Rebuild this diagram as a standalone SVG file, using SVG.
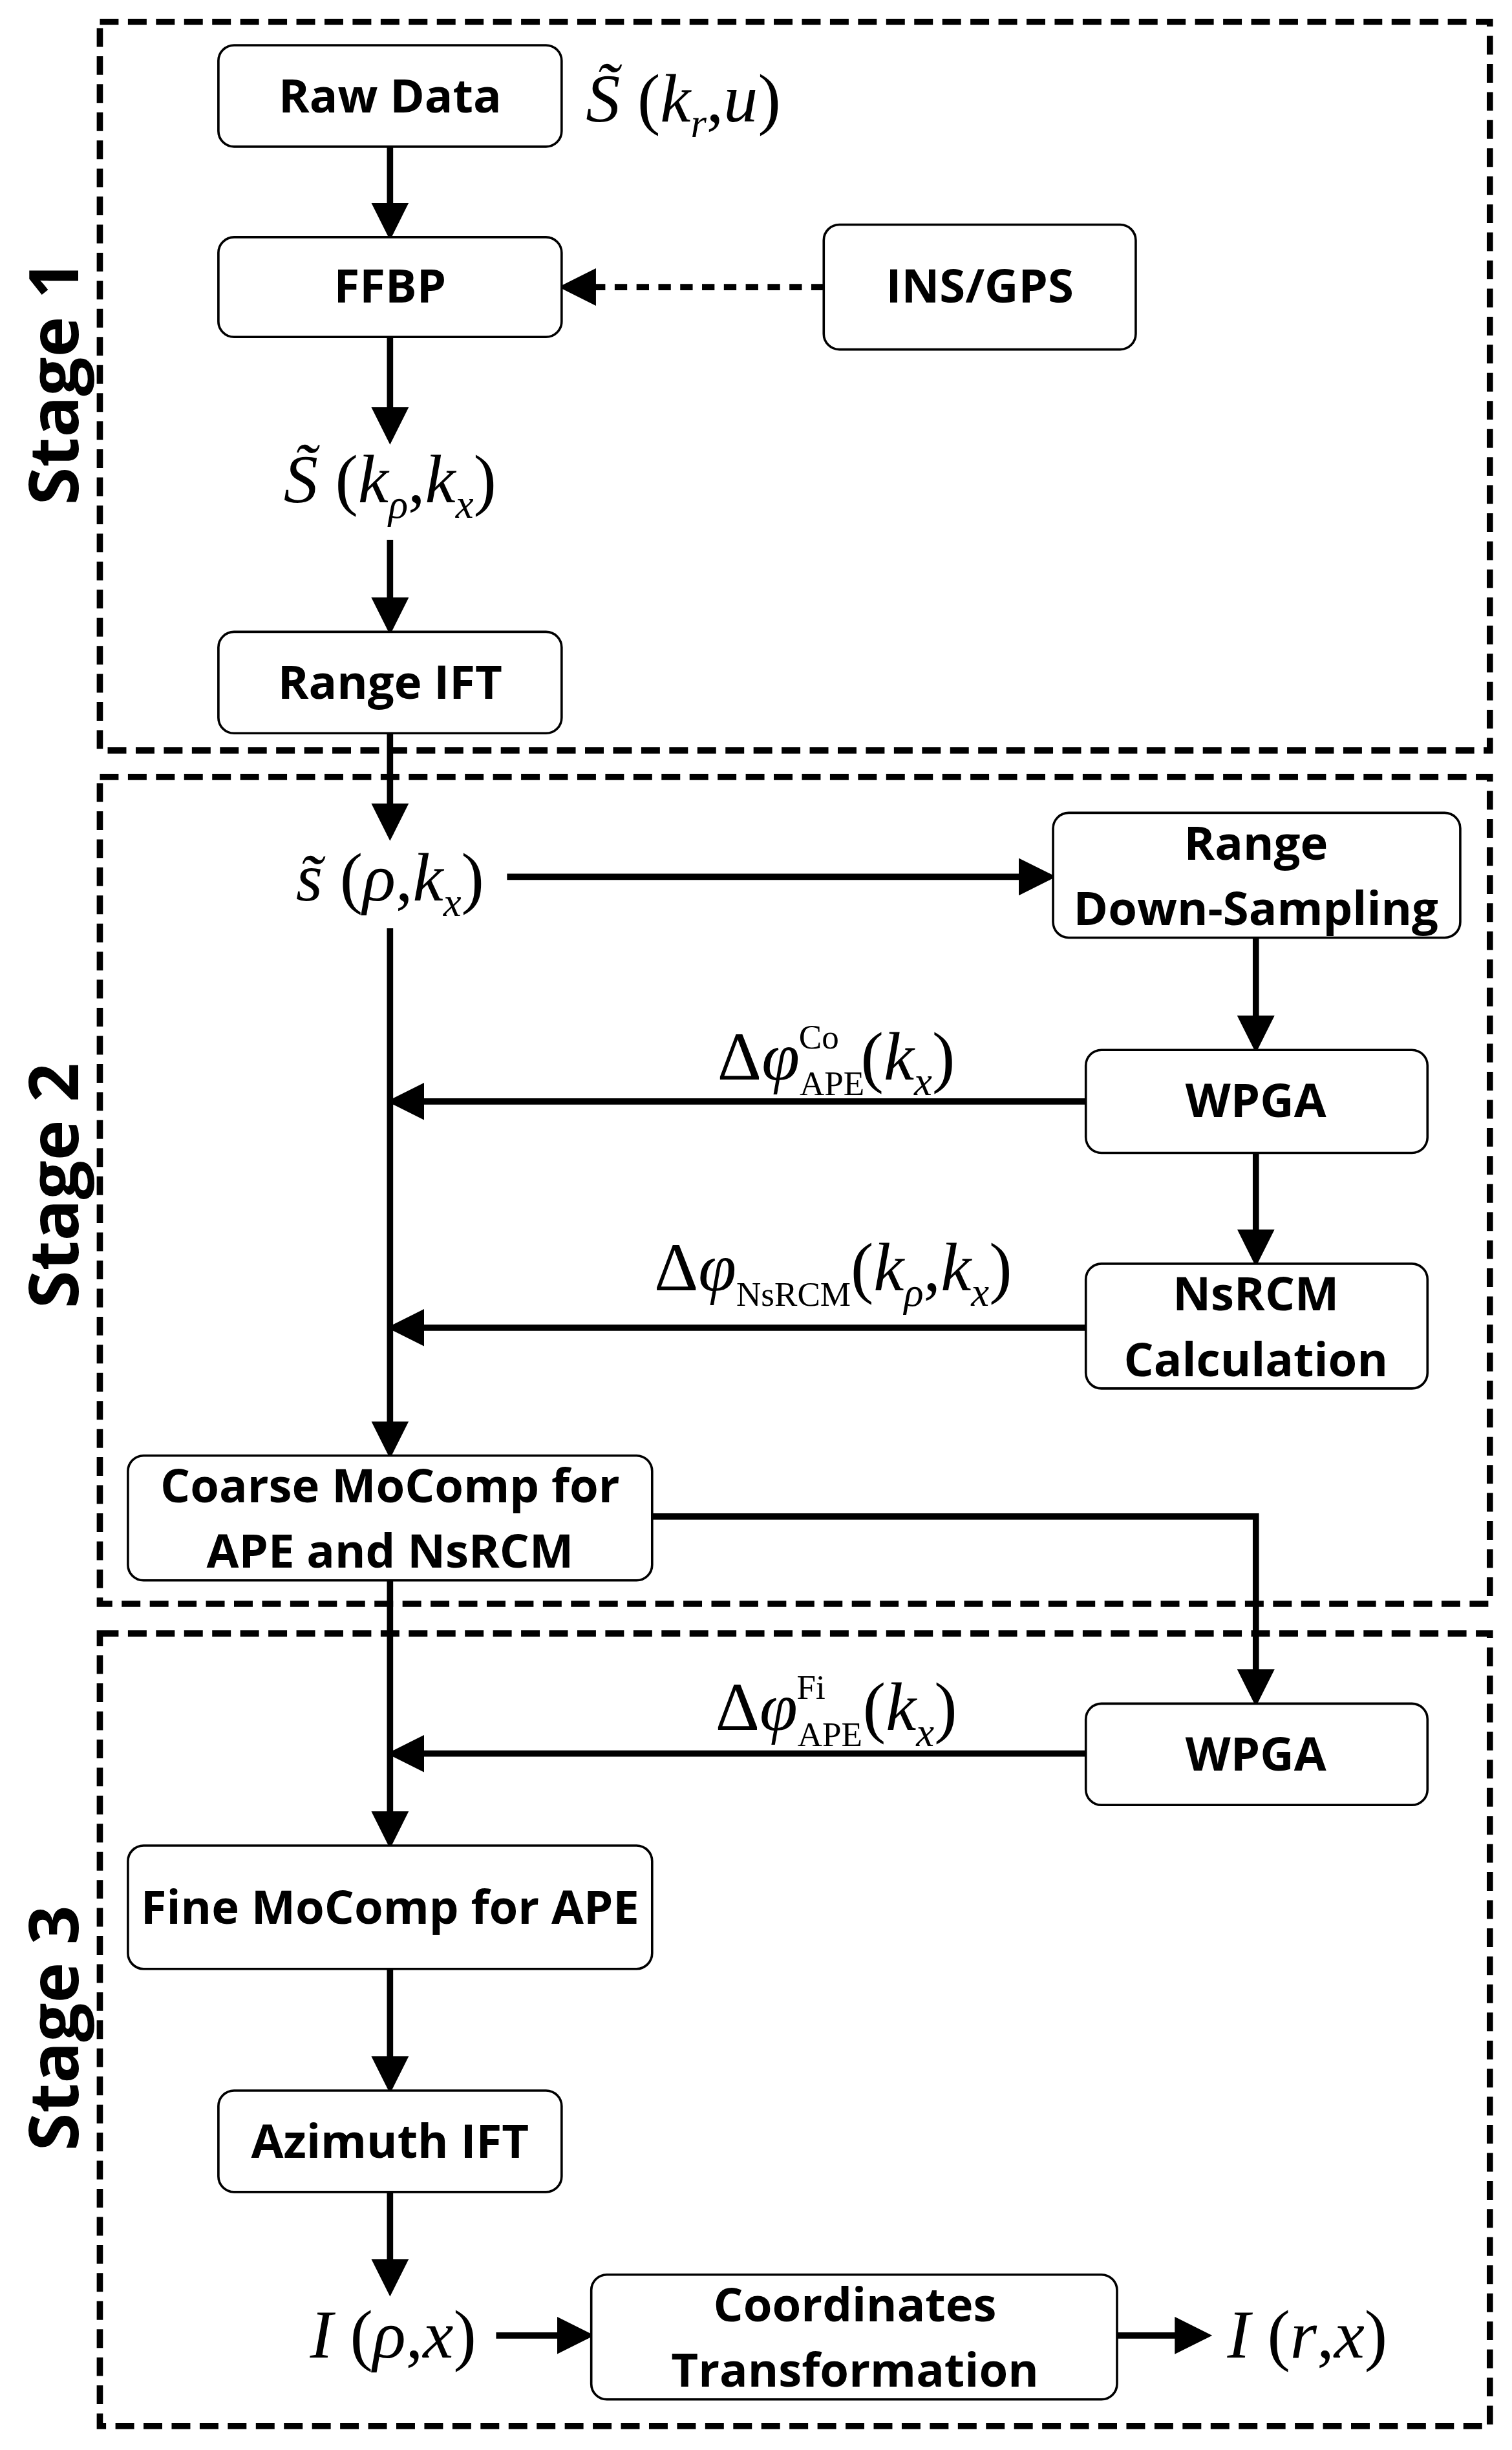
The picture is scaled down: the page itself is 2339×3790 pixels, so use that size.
<svg xmlns="http://www.w3.org/2000/svg" width="2339" height="3790" viewBox="0 0 2339 3790">
<defs>
<marker id="ah" markerWidth="6" markerHeight="6" refX="5" refY="3" orient="auto" markerUnits="strokeWidth"><path d="M0,0 L6,3 L0,6 z" fill="#000"/></marker>
<style>
.st{fill:none;stroke:#000;stroke-width:4;stroke-dasharray:12,6}
.nd{fill:#fff;stroke:#000;stroke-width:1.5}
.t{font-family:"Open Sans","Liberation Sans",sans-serif;font-weight:bold;font-size:30px;text-anchor:middle}
.sl{font-family:"Open Sans","Liberation Sans",sans-serif;font-weight:bold;font-size:44px;text-anchor:middle}
.m{font-family:"Liberation Serif",serif;font-size:44px;text-anchor:middle}
.i{font-style:italic}
.ar{fill:none;stroke:#000;stroke-width:4;marker-end:url(#ah)}
</style>
</defs>
<rect width="2339" height="3790" fill="#fff"/>
<g transform="scale(2.4134)">
<g id="stages">
<rect class="st" x="64" y="14" width="891" height="467"/>
<rect class="st" x="64" y="498" width="891" height="530"/>
<rect class="st" x="64" y="1047" width="891" height="508"/>
<text class="sl" transform="translate(50,245) rotate(-90)">Stage 1</text>
<text class="sl" transform="translate(50,760) rotate(-90)">Stage 2</text>
<text class="sl" transform="translate(50,1300) rotate(-90)">Stage 3</text>
</g>
<g id="connectors">
<line class="ar" x1="250" y1="94" x2="250" y2="150"/>
<line class="ar" x1="528" y1="184" x2="362" y2="184" stroke-dasharray="8,6"/>
<line class="ar" x1="250" y1="216" x2="250" y2="281"/>
<line class="ar" x1="250" y1="346" x2="250" y2="403"/>
<line class="ar" x1="250" y1="470" x2="250" y2="535"/>
<line class="ar" x1="325" y1="562" x2="673" y2="562"/>
<line class="ar" x1="250" y1="595" x2="250" y2="931"/>
<line class="ar" x1="805" y1="601" x2="805" y2="671"/>
<line class="ar" x1="696" y1="706" x2="252" y2="706"/>
<line class="ar" x1="805" y1="739" x2="805" y2="808"/>
<line class="ar" x1="696" y1="851" x2="252" y2="851"/>
<polyline class="ar" points="418,972 805,972 805,1090"/>
<line class="ar" x1="250" y1="1013" x2="250" y2="1181"/>
<line class="ar" x1="696" y1="1124" x2="252" y2="1124"/>
<line class="ar" x1="250" y1="1262" x2="250" y2="1338"/>
<line class="ar" x1="250" y1="1405" x2="250" y2="1468"/>
<line class="ar" x1="318" y1="1497" x2="377" y2="1497"/>
<line class="ar" x1="716" y1="1497" x2="773" y2="1497"/>
</g>
<g id="raw"><rect class="nd" x="140" y="29" width="220" height="65" rx="10"/><text class="t" x="250" y="72">Raw Data</text></g>
<g id="ffbp"><rect class="nd" x="140" y="152" width="220" height="64" rx="10"/><text class="t" x="250" y="194">FFBP</text></g>
<g id="insgps"><rect class="nd" x="528" y="144" width="200" height="80" rx="10"/><text class="t" x="628" y="194">INS/GPS</text></g>
<g id="rift"><rect class="nd" x="140" y="405" width="220" height="65" rx="10"/><text class="t" x="250" y="448">Range IFT</text></g>
<g id="rds"><rect class="nd" x="675" y="521" width="261" height="80" rx="10"/><text class="t" x="805" y="551">Range</text><text class="t" x="805" y="593">Down-Sampling</text></g>
<g id="wpga1"><rect class="nd" x="696" y="673" width="219" height="66" rx="10"/><text class="t" x="805" y="716">WPGA</text></g>
<g id="nsrcm"><rect class="nd" x="696" y="810" width="219" height="80" rx="10"/><text class="t" x="805" y="840">NsRCM</text><text class="t" x="805" y="882">Calculation</text></g>
<g id="coarse"><rect class="nd" x="82" y="933" width="336" height="80" rx="10"/><text class="t" x="250" y="963">Coarse MoComp for</text><text class="t" x="250" y="1005">APE and NsRCM</text></g>
<g id="wpga2"><rect class="nd" x="696" y="1092" width="219" height="65" rx="10"/><text class="t" x="805" y="1135">WPGA</text></g>
<g id="fine"><rect class="nd" x="82" y="1183" width="336" height="79" rx="10"/><text class="t" x="250" y="1233">Fine MoComp for APE</text></g>
<g id="aift"><rect class="nd" x="140" y="1340" width="220" height="65" rx="10"/><text class="t" x="250" y="1383">Azimuth IFT</text></g>
<g id="coord"><rect class="nd" x="379" y="1458" width="337" height="80" rx="10"/><text class="t" x="548" y="1488">Coordinates</text><text class="t" x="548" y="1530">Transformation</text></g>
<g id="labels">
<text class="m" x="438" y="78"><tspan class="i">S̃</tspan> (<tspan class="i">k</tspan><tspan class="i" font-size="26" dy="10">r</tspan><tspan dy="-10">,</tspan><tspan class="i">u</tspan>)</text>
<text class="m" x="250" y="322"><tspan class="i">S̃</tspan> (<tspan class="i">k</tspan><tspan class="i" font-size="26" dy="10">ρ</tspan><tspan dy="-10">,</tspan><tspan class="i">k</tspan><tspan class="i" font-size="26" dy="10">x</tspan><tspan dy="-10">)</tspan></text>
<text class="m" x="250" y="577"><tspan class="i">s̃</tspan> (<tspan class="i">ρ</tspan>,<tspan class="i">k</tspan><tspan class="i" font-size="26" dy="10">x</tspan><tspan dy="-10">)</tspan></text>
<text class="m" x="536" y="692">Δ<tspan class="i">φ</tspan><tspan font-size="22" dy="10">APE</tspan><tspan font-size="22" dx="-42" dy="-30">Co</tspan><tspan dx="14" dy="20">(</tspan><tspan class="i">k</tspan><tspan class="i" font-size="26" dy="10">x</tspan><tspan dy="-10">)</tspan></text>
<text class="m" x="534" y="827">Δ<tspan class="i">φ</tspan><tspan font-size="22" dy="10">NsRCM</tspan><tspan dy="-10">(</tspan><tspan class="i">k</tspan><tspan class="i" font-size="26" dy="10">ρ</tspan><tspan dy="-10">,</tspan><tspan class="i">k</tspan><tspan class="i" font-size="26" dy="10">x</tspan><tspan dy="-10">)</tspan></text>
<text class="m" x="536" y="1109">Δ<tspan class="i">φ</tspan><tspan font-size="22" dy="10">APE</tspan><tspan font-size="22" dx="-42" dy="-30">Fi</tspan><tspan dx="24" dy="20">(</tspan><tspan class="i">k</tspan><tspan class="i" font-size="26" dy="10">x</tspan><tspan dy="-10">)</tspan></text>
<text class="m" x="252" y="1511"><tspan class="i">I</tspan> (<tspan class="i">ρ</tspan>,<tspan class="i">x</tspan>)</text>
<text class="m" x="838" y="1511"><tspan class="i">I</tspan> (<tspan class="i">r</tspan>,<tspan class="i">x</tspan>)</text>
</g>
</g>
</svg>
